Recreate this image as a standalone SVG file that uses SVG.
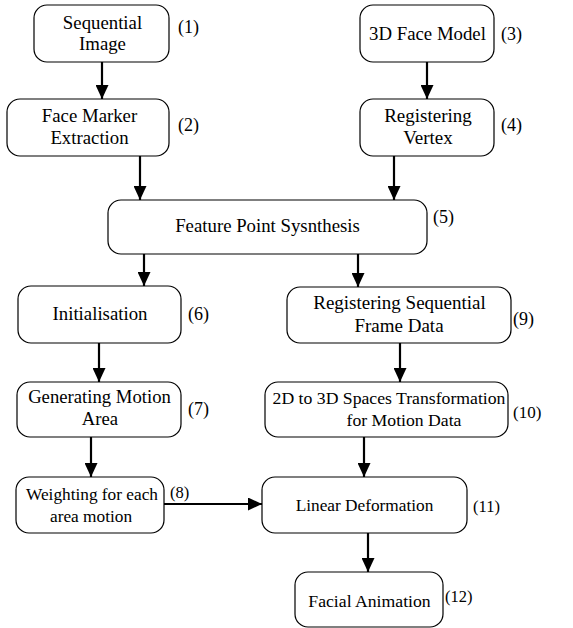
<svg xmlns="http://www.w3.org/2000/svg" width="573" height="628" viewBox="0 0 573 628">
  <style>
    .box { fill: #fff; stroke: #000; stroke-width: 1.2; }
    .edge { stroke: #000; stroke-width: 2.2; fill: none; marker-end: url(#arrow); }
  </style>
  <defs>
    <marker id="arrow" markerUnits="userSpaceOnUse" markerWidth="14" markerHeight="13" refX="14" refY="6.5" orient="auto">
      <path d="M0,0 L14,6.5 L0,13 Z" fill="#000"/>
    </marker>
  </defs>
  <rect width="573" height="628" fill="#fff"/>

  <!-- flow arrows -->
  <g id="connectors">
    <line class="edge" x1="102" y1="62" x2="102" y2="99"/>
    <line class="edge" x1="140" y1="156" x2="140" y2="200"/>
    <line class="edge" x1="427" y1="62" x2="427" y2="99"/>
    <line class="edge" x1="394" y1="156" x2="394" y2="200"/>
    <line class="edge" x1="144" y1="254" x2="144" y2="286"/>
    <line class="edge" x1="358" y1="254" x2="358" y2="287"/>
    <line class="edge" x1="99" y1="343" x2="99" y2="382"/>
    <line class="edge" x1="400" y1="343" x2="400" y2="382"/>
    <line class="edge" x1="91" y1="437" x2="91" y2="477"/>
    <line class="edge" x1="364" y1="437" x2="364" y2="477"/>
    <line class="edge" x1="164" y1="504" x2="262" y2="504"/>
    <line class="edge" x1="368" y1="533" x2="368" y2="572"/>
  </g>

  <g id="n1">
    <rect class="box" x="34" y="5" width="135" height="57" rx="13"/>
    <text font-family="Liberation Serif" font-size="18.8" text-anchor="middle" x="102.5" y="29">Sequential</text>
    <text font-family="Liberation Serif" font-size="18.8" text-anchor="middle" x="102.5" y="50">Image</text>
    <text font-family="Liberation Serif" font-size="18" x="178" y="33">(1)</text>
  </g>
  <g id="n2">
    <rect class="box" x="7" y="99" width="162" height="57" rx="13"/>
    <text font-family="Liberation Serif" font-size="18.8" text-anchor="middle" x="89.5" y="122">Face Marker</text>
    <text font-family="Liberation Serif" font-size="18.8" text-anchor="middle" x="89.5" y="144">Extraction</text>
    <text font-family="Liberation Serif" font-size="18" x="178" y="131">(2)</text>
  </g>
  <g id="n3">
    <rect class="box" x="360" y="5" width="134" height="57" rx="13"/>
    <text font-family="Liberation Serif" font-size="18.8" text-anchor="middle" x="427.5" y="40">3D Face Model</text>
    <text font-family="Liberation Serif" font-size="18" x="501" y="40">(3)</text>
  </g>
  <g id="n4">
    <rect class="box" x="360" y="99" width="134" height="57" rx="13"/>
    <text font-family="Liberation Serif" font-size="19" text-anchor="middle" x="428" y="122">Registering</text>
    <text font-family="Liberation Serif" font-size="19" text-anchor="middle" x="428" y="144">Vertex</text>
    <text font-family="Liberation Serif" font-size="18" x="501" y="131">(4)</text>
  </g>
  <g id="n5">
    <rect class="box" x="108" y="200" width="319" height="54" rx="13"/>
    <text font-family="Liberation Serif" font-size="18.8" text-anchor="middle" x="267.5" y="232">Feature Point Sysnthesis</text>
    <text font-family="Liberation Serif" font-size="18" x="433" y="223">(5)</text>
  </g>
  <g id="n6">
    <rect class="box" x="18" y="286" width="163" height="57" rx="13"/>
    <text font-family="Liberation Serif" font-size="18.8" text-anchor="middle" x="100" y="320">Initialisation</text>
    <text font-family="Liberation Serif" font-size="18" x="188" y="320">(6)</text>
  </g>
  <g id="n7">
    <rect class="box" x="17" y="382" width="164" height="55" rx="13"/>
    <text font-family="Liberation Serif" font-size="18.7" text-anchor="middle" x="99.5" y="403">Generating Motion</text>
    <text font-family="Liberation Serif" font-size="18.7" text-anchor="middle" x="100" y="425">Area</text>
    <text font-family="Liberation Serif" font-size="18" x="188" y="415">(7)</text>
  </g>
  <g id="n8">
    <rect class="box" x="16" y="477" width="148" height="56" rx="13"/>
    <text font-family="Liberation Serif" font-size="17.3" text-anchor="middle" x="92" y="500">Weighting for each</text>
    <text font-family="Liberation Serif" font-size="17.3" text-anchor="middle" x="91" y="522">area motion</text>
    <text font-family="Liberation Serif" font-size="16.5" x="170" y="498">(8)</text>
  </g>
  <g id="n9">
    <rect class="box" x="287" y="287" width="224" height="56" rx="13"/>
    <text font-family="Liberation Serif" font-size="19" text-anchor="middle" x="399.5" y="309">Registering Sequential</text>
    <text font-family="Liberation Serif" font-size="19" text-anchor="middle" x="399" y="332">Frame Data</text>
    <text font-family="Liberation Serif" font-size="18" x="513" y="325">(9)</text>
  </g>
  <g id="n10">
    <rect class="box" x="265" y="382" width="243" height="55" rx="13"/>
    <text font-family="Liberation Serif" font-size="17.7" text-anchor="middle" x="389" y="404">2D to 3D Spaces Transformation</text>
    <text font-family="Liberation Serif" font-size="17.7" text-anchor="middle" x="404" y="426">for Motion Data</text>
    <text font-family="Liberation Serif" font-size="17" x="513" y="418">(10)</text>
  </g>
  <g id="n11">
    <rect class="box" x="262" y="477" width="205" height="56" rx="13"/>
    <text font-family="Liberation Serif" font-size="17.3" text-anchor="middle" x="364.5" y="511">Linear Deformation</text>
    <text font-family="Liberation Serif" font-size="16.5" x="473" y="512">(11)</text>
  </g>
  <g id="n12">
    <rect class="box" x="295" y="572" width="148" height="55" rx="13"/>
    <text font-family="Liberation Serif" font-size="17.7" text-anchor="middle" x="369.5" y="607">Facial Animation</text>
    <text font-family="Liberation Serif" font-size="16.5" x="445" y="602">(12)</text>
  </g>
</svg>
